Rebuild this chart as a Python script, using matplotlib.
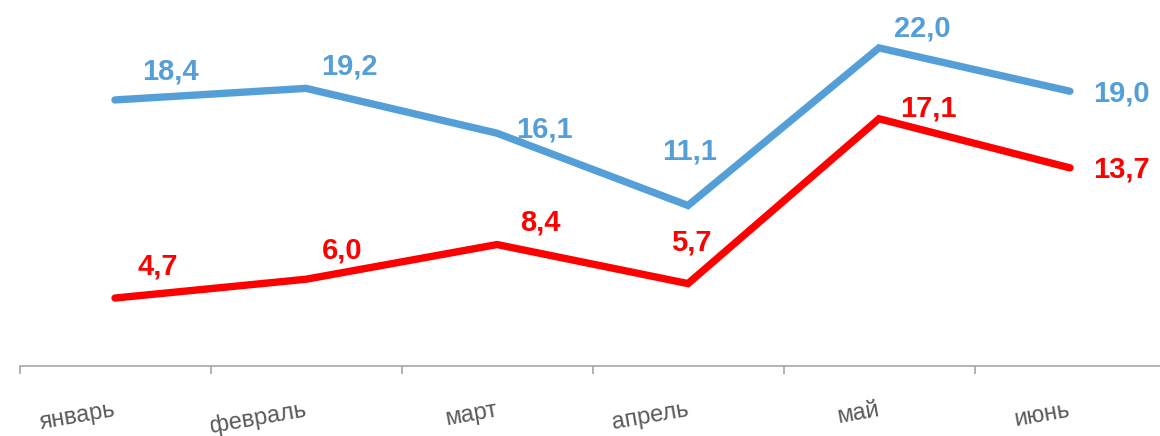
import matplotlib.pyplot as plt
from matplotlib import transforms

# data
months = ['январь', 'февраль', 'март', 'апрель', 'май', 'июнь']
blue_vals = [18.4, 19.2, 16.1, 11.1, 22.0, 19.0]
red_vals = [4.7, 6.0, 8.4, 5.7, 17.1, 13.7]

# label offsets in pixels (layout only)
blue_off = [(55, 28), (43, 22), (47, 4), (2, 54), (43, 19), (51, -2)]
red_off = [(43, 32), (36, 29), (43, 22), (3, 41), (49, 10), (51, -2)]

BLUE = '#559FD8'
RED = '#FF0000'

plt.rcParams['font.family'] = ['Liberation Sans', 'DejaVu Sans']

fig = plt.figure(figsize=(11.6, 4.36), dpi=100)
ax = fig.add_axes([19.5 / 1160, 70 / 436, 1146 / 1160, 361.5 / 436])

x = list(range(len(months)))
ax.plot(x, blue_vals, color=BLUE, lw=5.3, solid_capstyle='round', solid_joinstyle='miter')
ax.plot(x, red_vals, color=RED, lw=5.3, solid_capstyle='round', solid_joinstyle='miter')

def fmt(v):
    return f'{v:.1f}'.replace('.', ',')

for vals, offs, col in [(blue_vals, blue_off, BLUE), (red_vals, red_off, RED)]:
    for i, v in enumerate(vals):
        ax.annotate(fmt(v), xy=(i, v), xytext=offs[i], textcoords='offset pixels',
                    ha='center', va='center', fontsize=21, fontweight='bold', color=col)

ax.set_xlim(-0.5, len(months) - 0.5)
ax.set_ylim(0, 25)

for s in ['left', 'right', 'top']:
    ax.spines[s].set_visible(False)
ax.spines['bottom'].set_color('#A6A6A6')
ax.spines['bottom'].set_linewidth(1.2)

ax.set_yticks([])
ax.set_xticks([i - 0.5 for i in range(len(months) + 1)])
ax.set_xticklabels([])
ax.tick_params(axis='x', direction='out', length=5.5, width=1.2, color='#A6A6A6')

trans = transforms.blended_transform_factory(ax.transData, ax.transAxes)
for i, m in enumerate(months):
    ax.annotate(m, xy=(i, 0), xycoords=trans, xytext=(1, -50), textcoords='offset pixels',
                ha='right', va='baseline', rotation=10, rotation_mode='anchor',
                fontsize=17, color='#595959')

fig.savefig('out.png', dpi=100)
